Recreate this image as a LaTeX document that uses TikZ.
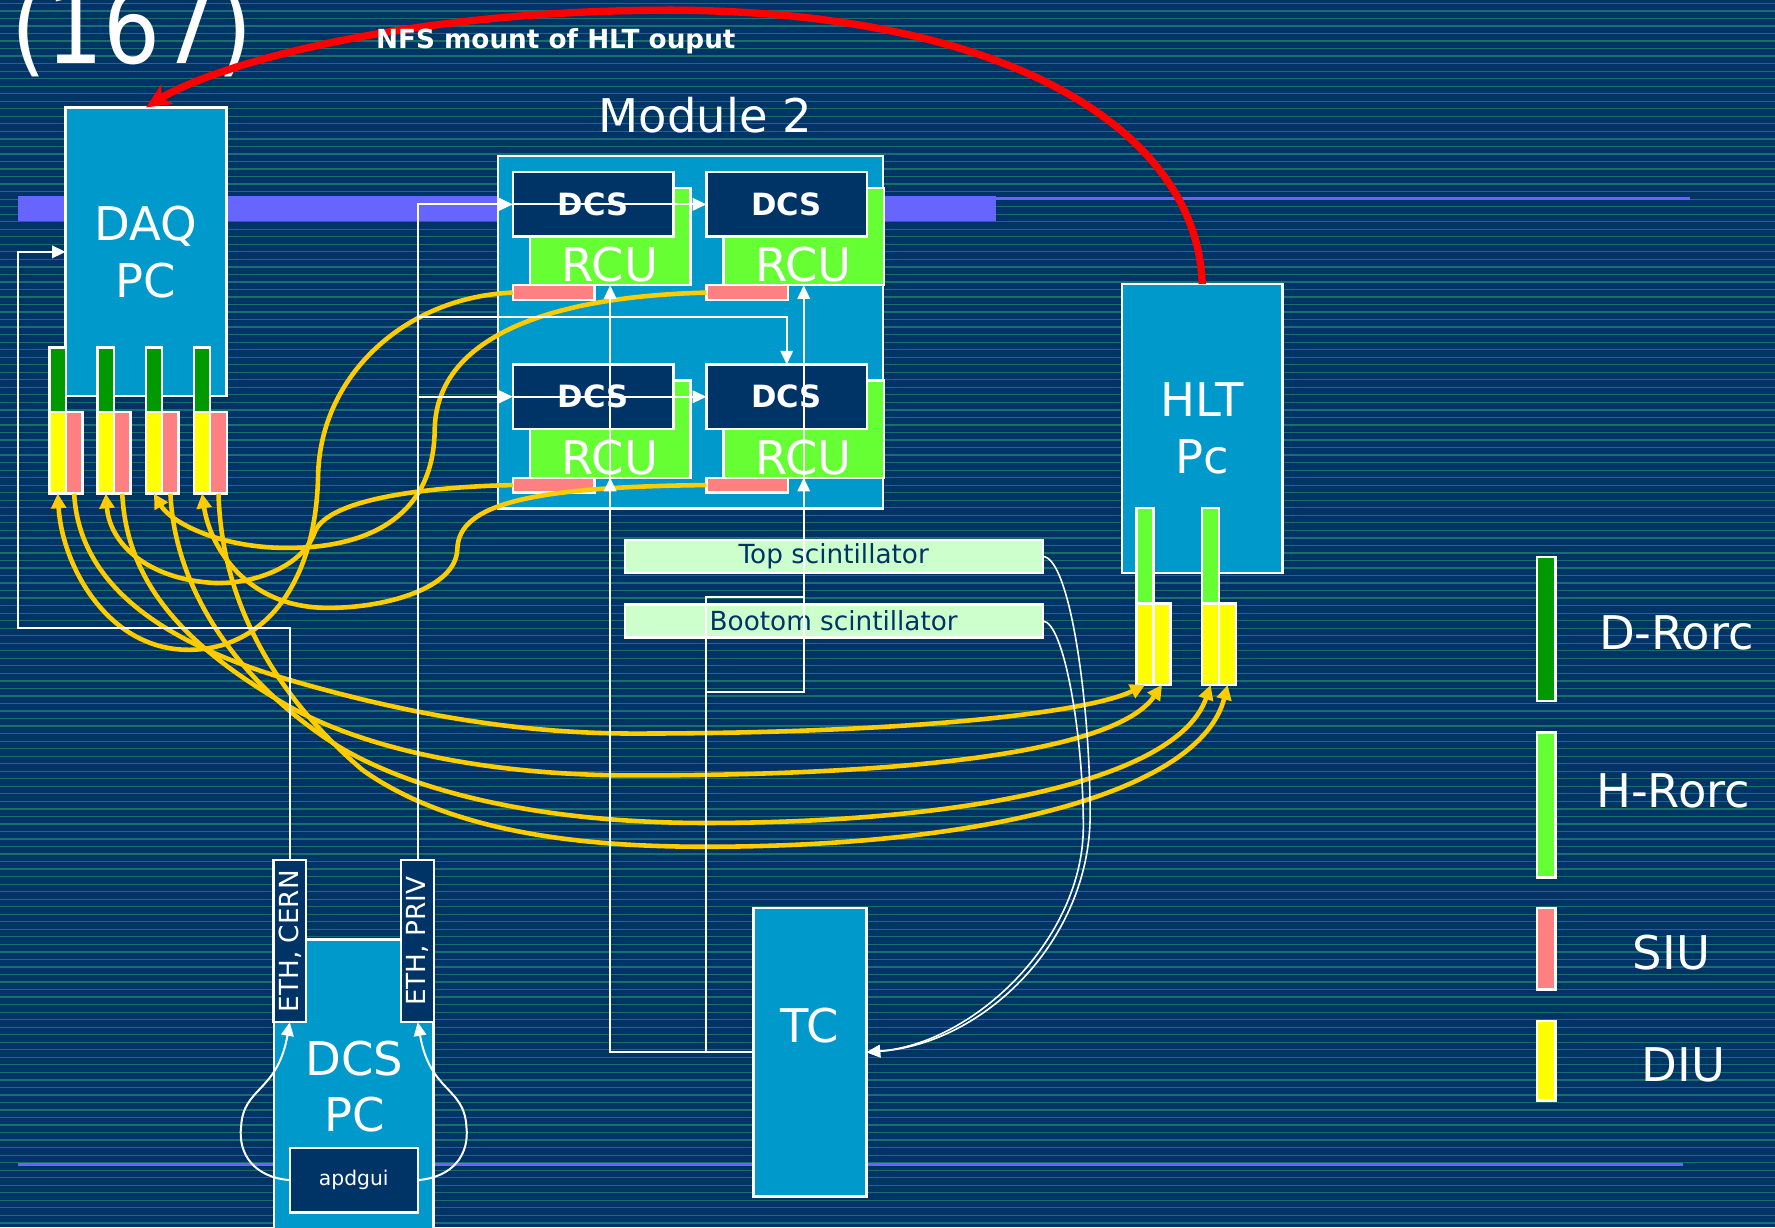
\documentclass[tikz,border=0pt]{standalone}
\usepackage{fontspec}
\setmainfont{DejaVu Sans}
\usepackage{graphicx}
\usetikzlibrary{arrows.meta, positioning}

% colores de la lamina
\definecolor{fondo}{RGB}{0,51,102}
\definecolor{raya}{RGB}{25,110,110}
\definecolor{cajaazul}{RGB}{0,153,204}
\definecolor{oscuro}{RGB}{0,51,102}
\definecolor{verdeclaro}{RGB}{102,255,51}
\definecolor{verdeosc}{RGB}{0,153,0}
\definecolor{rosa}{RGB}{255,128,128}
\definecolor{amarillo}{RGB}{255,255,0}
\definecolor{lila}{RGB}{102,102,255}
\definecolor{oro}{RGB}{255,204,0}
\definecolor{centelleo}{RGB}{204,255,204}

% tamanos de letra
\newcommand{\fgrande}{\fontsize{11.67pt}{14.2pt}\selectfont}
\newcommand{\fchica}{\fontsize{6.6pt}{8pt}\selectfont}
\newcommand{\fdcs}{\fontsize{7.7pt}{9pt}\selectfont\bfseries}
\newcommand{\fmini}{\fontsize{5.1pt}{6pt}\selectfont}
\newcommand{\ftitulo}{\fontsize{25.6pt}{30pt}\selectfont}

\begin{document}
\begin{tikzpicture}[
		x=0.01cm, y=-0.01cm,
		% --- ESTILOS DE LAS CAJAS ---
		caja_pc/.style = {draw=white, fill=cajaazul, rectangle, line width=0.6pt, inner sep=0pt, outer sep=0pt, text=white, align=center, font=\fgrande},
		texto_pc/.style = {text=white, inner sep=0pt, align=center, font=\fgrande},
		tarjeta_dcs/.style = {draw=white, fill=oscuro, rectangle, line width=0.6pt, inner sep=0pt, outer sep=0pt, minimum width=1.42cm, minimum height=0.57cm, text=white, font=\fdcs},
		caja_rcu/.style = {draw=white, fill=verdeclaro, rectangle, line width=0.6pt, inner sep=0pt, outer sep=0pt, minimum width=1.42cm, minimum height=0.86cm},
		siu_mod/.style = {draw=white, fill=rosa, rectangle, line width=0.6pt, inner sep=0pt, outer sep=0pt, minimum width=0.72cm, minimum height=0.13cm},
		% --- ESTILOS DE LAS TARJETAS (RORC, SIU, DIU) ---
		barra/.style = {draw=white, rectangle, line width=0.6pt, inner sep=0pt, outer sep=0pt, minimum width=0.145cm, minimum height=0.72cm},
		barra_drorc/.style = {barra, fill=verdeosc},
		barra_hrorc/.style = {barra, fill=verdeclaro},
		barra_siu/.style = {barra, fill=rosa},
		barra_diu/.style = {barra, fill=amarillo},
		centelleador/.style = {draw=white, fill=centelleo, rectangle, line width=0.6pt, inner sep=0pt, outer sep=0pt, minimum width=3.69cm, minimum height=0.29cm, text=oscuro, font=\fchica},
		eth/.style = {draw=white, fill=oscuro, rectangle, line width=0.6pt, inner sep=0pt, outer sep=0pt, minimum width=0.29cm, minimum height=1.43cm, text=white, font=\fchica},
		etiqueta/.style = {text=white, inner sep=0pt, font=\fgrande},
		% --- ESTILOS DE LAS CONEXIONES ---
		wire/.style = {draw=white, line width=0.5pt},
		wire_fino/.style = {draw=white, line width=0.4pt},
		cable_oro/.style = {draw=oro, line width=1.15pt, -{Triangle[length=0.13cm, width=0.13cm]}},
		cable_rojo/.style = {draw=red, line width=1.85pt, -{Stealth[length=0.22cm, width=0.2cm, inset=0.06cm]}},
		>={Triangle[length=0.12cm, width=0.11cm]}
		]
		\useasboundingbox (0,0) rectangle (1568,1084);
		\clip (0,0) rectangle (1568,1084);
		
		% =========================================================================
		% 1. FONDO RAYADO Y BARRAS LILAS
		% =========================================================================
		\fill[fondo] (0,0) rectangle (1568,1084);
		\foreach \y in {3,9.65,...,1084}
			\draw[raya, line width=0.011cm] (0,\y) -- (1568,\y);
		\fill[lila] (16,173) rectangle (880,195);
		\draw[lila, line width=0.027cm] (880,175) -- (1493,175);
		\draw[lila, line width=0.027cm] (16,1029) -- (1487,1029);
		
		% numero de la lamina (cortado por el borde superior, como en el original)
		\node[text=white, inner sep=0pt, font=\ftitulo, anchor=base] (numero) at (117,56) {\scalebox{0.88}[1]{(167)}};
		
		% =========================================================================
		% 2. DAQ PC CON SUS CUATRO TARJETAS
		% =========================================================================
		\node[caja_pc, minimum width=1.42cm, minimum height=2.55cm] (daq) at (129,222.5) {DAQ\\PC};
		\foreach \i/\x in {1/51, 2/93.5, 3/136, 4/178.5} {
			\node[barra_drorc, minimum height=0.57cm] (drorc\i) at (\x,335.5) {};
			\node[barra_diu] (diu\i) at (\x,400) {};
			\node[barra_siu, right=0pt of diu\i] (siud\i) {};
		}
		
		% =========================================================================
		% 3. MODULO 2 (DCS + RCU + SIU)
		% =========================================================================
		\node[caja_pc, minimum width=3.40cm, minimum height=3.11cm] (modulo) at (610,293.5) {};
		\node[etiqueta, above=0.2cm of modulo, xshift=0.13cm] (titulo_modulo) {Module 2};
		\foreach \i/\dx/\dy in {1/0/0, 2/171/0, 3/0/170, 4/171/170} {
			\node[caja_rcu] (rcu\i) at (539+\dx,209+\dy) {};
			\node[etiqueta, anchor=base] (rcu_txt\i) at (539+\dx,249+\dy) {RCU};
			\node[tarjeta_dcs] (dcs\i) at (524+\dx,180.5+\dy) {DCS};
			\node[siu_mod] (siu\i) at (489+\dx,258.5+\dy) {};
		}
		
		% =========================================================================
		% 4. HLT PC, CENTELLEADORES, TC Y DCS PC
		% =========================================================================
		\node[caja_pc, minimum width=1.42cm, minimum height=2.55cm] (hlt) at (1062,378.5) {HLT\\Pc};
		\node[barra_hrorc, minimum width=0.15cm, minimum height=0.84cm] (hrorc1) at (1011.5,491) {};
		\node[barra_hrorc, minimum width=0.15cm, minimum height=0.84cm] (hrorc2) at (1069.5,491) {};
		\node[barra_diu, minimum width=0.15cm, below=0pt of hrorc1] (hdiu1) {};
		\node[barra_diu, minimum width=0.15cm, right=0pt of hdiu1] (hdiu2) {};
		\node[barra_diu, minimum width=0.15cm, below=0pt of hrorc2] (hdiu3) {};
		\node[barra_diu, minimum width=0.15cm, right=0pt of hdiu3] (hdiu4) {};
		
		\node[centelleador] (top_sc) at (736.5,491.5) {Top scintillator};
		\node[centelleador, below=0.28cm of top_sc] (bot_sc) {Bootom scintillator};
		
		\node[caja_pc, minimum width=1.0cm, minimum height=2.55cm] (tc) at (715.5,929.5) {};
		\node[texto_pc, anchor=base] (tc_txt) at (715,921) {TC};
		
		\node[caja_pc, minimum width=1.41cm, minimum height=2.8cm, anchor=north] (dcs_pc) at (312.5,830) {};
		\node[texto_pc] (dcs_pc_txt) at (313,960) {DCS\\PC};
		\node[eth] (eth_cern) at (256,831.5) {\rotatebox{90}{ETH, CERN}};
		\node[eth] (eth_priv) at (369,831.5) {\rotatebox{90}{ETH, PRIV}};
		\node[eth, minimum width=1.13cm, minimum height=0.57cm, font=\fmini] (apdgui) at (312.5,1042.5) {apdgui};
		
		% =========================================================================
		% 5. LEYENDA
		% =========================================================================
		\node[barra_drorc, minimum width=0.16cm, minimum height=1.27cm] (ley_drorc) at (1366,555.5) {};
		\node[barra_hrorc, minimum width=0.16cm, minimum height=1.28cm] (ley_hrorc) at (1366,711) {};
		\node[barra_siu, minimum width=0.16cm, minimum height=0.72cm] (ley_siu) at (1366,838) {};
		\node[barra_diu, minimum width=0.16cm, minimum height=0.70cm] (ley_diu) at (1366,937) {};
		\node[etiqueta, anchor=base] (ley_drorc_txt) at (1481,574) {D-Rorc};
		\node[etiqueta, anchor=base] (ley_hrorc_txt) at (1478,713) {H-Rorc};
		\node[etiqueta, anchor=base] (ley_siu_txt) at (1476.5,856) {SIU};
		\node[etiqueta, anchor=base] (ley_diu_txt) at (1487,955) {DIU};
		
		% =========================================================================
		% 6. FIBRAS OPTICAS (CABLES DORADOS)
		% =========================================================================
		% del modulo hacia los DIU del DAQ
		\draw[cable_oro] (siu1.west) .. controls (360,262) and (283,330) .. (281,420) .. controls (279,520) and (230,575) .. (165,574) .. controls (95,573) and (55,500) .. (diu1.south);
		\draw[cable_oro] (siu2.west) .. controls (480,262) and (385,300) .. (384,380) .. controls (383,460) and (320,485) .. (250,484) .. controls (190,483) and (150,460) .. (diu3.south);
		\draw[cable_oro] (siu3.west) .. controls (380,430) and (290,440) .. (278,470) .. controls (268,500) and (225,516) .. (190,515) .. controls (130,512) and (97,480) .. (diu2.south);
		\draw[cable_oro] (siu4.west) .. controls (470,430) and (405,445) .. (404,485) .. controls (403,520) and (340,537) .. (290,537) .. controls (215,537) and (185,480) .. (diu4.south);
		% del DAQ hacia el HLT
		\draw[cable_oro] (siud1.south) .. controls (70,520) and (150,570) .. (257,601) .. controls (350,628) and (450,648) .. (560,648) .. controls (800,648) and (960,630) .. (hdiu1.south);
		\draw[cable_oro] (siud2.south) .. controls (112,520) and (170,575) .. (257,625) .. controls (330,665) and (440,685) .. (560,685) .. controls (800,685) and (985,665) .. (hdiu2.south);
		\draw[cable_oro] (siud3.south) .. controls (155,530) and (220,610) .. (300,660) .. controls (380,707) and (500,727) .. (623,727) .. controls (850,727) and (1040,690) .. (hdiu3.south);
		\draw[cable_oro] (siud4.south) .. controls (196,540) and (250,620) .. (320,680) .. controls (400,737) and (520,748) .. (623,748) .. controls (870,748) and (1060,700) .. (hdiu4.south);
		
		% =========================================================================
		% 7. RED ETHERNET Y SENALES DE DISPARO
		% =========================================================================
		\coordinate (esquina) at (16,555);
		\draw[wire,->] (eth_cern.north) |- (esquina) |- (daq.west);
		
		\draw[wire,->] (eth_priv.north) |- (dcs1.west);
		\draw[wire,->] (dcs1.west) -- (dcs2.west);
		\draw[wire,->] (eth_priv.north) |- (dcs3.west);
		\draw[wire,->] (dcs3.west) -- (dcs4.west);
		\coordinate (ramal) at (369,280);
		\draw[wire,->] (ramal) -| (dcs4.north);
		
		\draw[wire,->] (apdgui.west) .. controls (225,1040) and (210,1020) .. (213,995) .. controls (215,960) and (245,965) .. (eth_cern.south);
		\draw[wire,->] (apdgui.east) .. controls (400,1040) and (415,1020) .. (412,995) .. controls (410,960) and (380,965) .. (eth_priv.south);
		
		% disparo: TC hacia las RCU
		\draw[wire,->] (tc.west) -| (rcu1.south);
		\draw[wire,->] (tc.west) -| (rcu3.south);
		\coordinate (nudo_a) at (624,527);
		\coordinate (nudo_b) at (624,611);
		\draw[wire,->] (tc.west) -| (nudo_a) -| (rcu2.south);
		\draw[wire,->] (nudo_b) -| (rcu4.south);
		
		% centelleadores hacia el TC
		\draw[wire_fino,->] (top_sc.east) .. controls (945,492) and (963,620) .. (963,720) .. controls (963,830) and (870,922) .. (tc.east);
		\draw[wire_fino,->] (bot_sc.east) .. controls (940,549) and (957,650) .. (957,730) .. controls (957,830) and (860,922) .. (tc.east);
		
		% =========================================================================
		% 8. MONTAJE NFS (FLECHA ROJA)
		% =========================================================================
		\draw[cable_rojo] (hlt.north) .. controls (1058,120) and (900,12) .. (600,9) .. controls (350,8) and (185,60) .. (daq.north);
		\node[text=white, inner sep=0pt, font=\fchica\bfseries, anchor=base] (nfs) at (491,43) {NFS mount of HLT ouput};
		
	\end{tikzpicture}
\end{document}
